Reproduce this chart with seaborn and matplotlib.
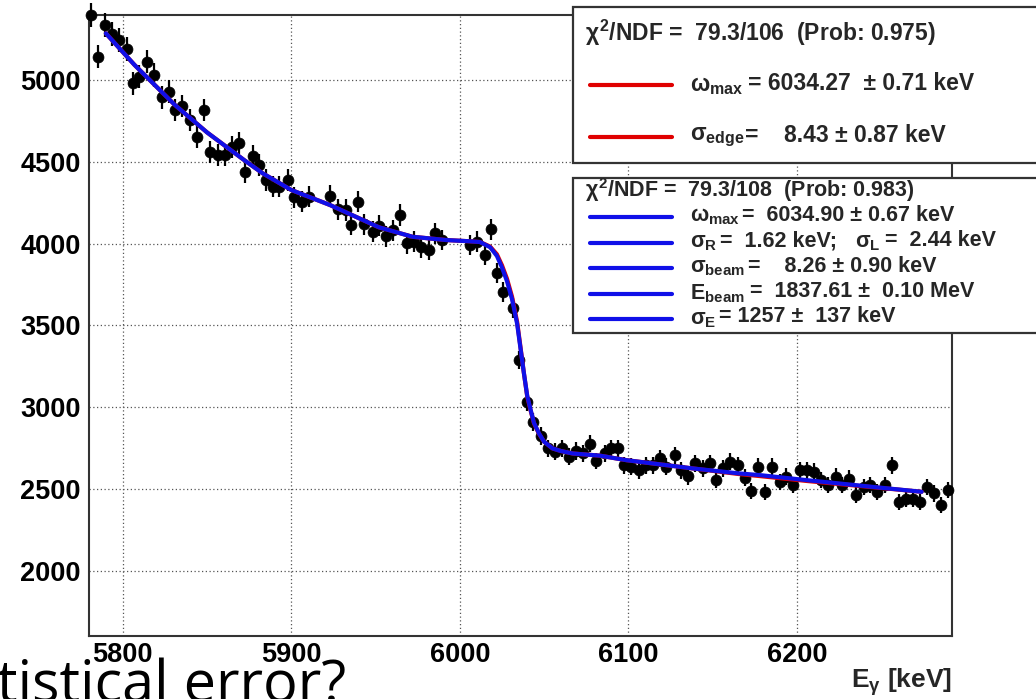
import numpy as np
import pandas as pd
import matplotlib
matplotlib.use("Agg")
import matplotlib.pyplot as plt
import seaborn as sns
from matplotlib.patches import Rectangle
from matplotlib.lines import Line2D
from matplotlib.ticker import MultipleLocator

# ---------------- data ----------------
energy = [5781.2, 5785.2, 5789.6, 5793.5, 5798.0, 5802.4, 5805.9, 5809.9, 5814.2, 5818.8,
          5823.1, 5827.3, 5831.1, 5835.4, 5839.8, 5844.2, 5848.1, 5852.0, 5856.4, 5860.8,
          5864.9, 5868.8, 5872.4, 5877.2, 5881.1, 5885.1, 5889.0, 5893.0, 5897.9, 5901.9,
          5906.5, 5910.8, 5922.7, 5927.6, 5932.2, 5935.5, 5939.5, 5943.4, 5948.4, 5952.3,
          5956.3, 5960.2, 5964.6, 5968.5, 5973.1, 5977.1, 5981.6, 5985.0, 5989.6, 6005.8,
          6010.1, 6014.7, 6018.6, 6021.8, 6025.9, 6031.3, 6035.4, 6039.6, 6043.3, 6047.9,
          6052.2, 6056.2, 6060.8, 6064.8, 6069.1, 6073.0, 6077.0, 6080.9, 6085.9, 6089.8,
          6093.8, 6097.7, 6101.7, 6106.6, 6110.6, 6114.5, 6118.5, 6122.5, 6127.4, 6131.4,
          6135.3, 6139.3, 6144.2, 6148.2, 6152.2, 6156.1, 6160.1, 6165.0, 6169.0, 6172.9,
          6177.1, 6181.2, 6185.2, 6189.7, 6193.7, 6197.6, 6202.0, 6205.9, 6209.9, 6214.4,
          6218.4, 6222.9, 6226.9, 6230.8, 6235.2, 6239.6, 6243.5, 6247.5, 6252.0, 6256.6,
          6260.5, 6264.9, 6268.9, 6272.8, 6277.2, 6281.1, 6285.3, 6289.6]
counts = [5395, 5142, 5336, 5281, 5245, 5188, 4980, 5020, 5112, 5030,
          4894, 4929, 4817, 4841, 4755, 4650, 4817, 4562, 4542, 4542,
          4592, 4617, 4440, 4535, 4480, 4389, 4348, 4348, 4389, 4283,
          4256, 4287, 4291, 4210, 4205, 4114, 4256, 4120, 4073, 4108,
          4044, 4083, 4175, 4002, 4012, 3977, 3961, 4063, 4022, 3991,
          4012, 3930, 4087, 3823, 3706, 3607, 3289, 3034, 2911, 2825,
          2749, 2728, 2749, 2698, 2733, 2718, 2779, 2672, 2718, 2749,
          2749, 2647, 2637, 2616, 2647, 2647, 2688, 2637, 2708, 2616,
          2579, 2657, 2627, 2657, 2555, 2627, 2667, 2647, 2570, 2489,
          2637, 2484, 2637, 2545, 2576, 2524, 2616, 2616, 2606, 2555,
          2524, 2576, 2524, 2565, 2463, 2514, 2524, 2484, 2524, 2647,
          2423, 2443, 2443, 2423, 2514, 2474, 2402, 2494]

# fit curves (knots)
fit_E = [5790, 5807, 5831, 5850, 5872, 5883, 5900, 5923, 5952, 5972,
         5992, 6005, 6012, 6018, 6022, 6025, 6028, 6031, 6034, 6036,
         6038, 6040, 6042, 6044, 6047, 6050, 6055, 6060, 6067, 6083,
         6099, 6138, 6166, 6178, 6206, 6245, 6274]
fit_blue = [5285, 5092, 4847, 4680, 4511, 4430, 4328, 4236, 4100, 4042,
            4022, 4015, 4010, 3978, 3925, 3855, 3770, 3660, 3510, 3360,
            3210, 3070, 2985, 2905, 2840, 2790, 2749, 2733, 2718, 2705,
            2677, 2627, 2596, 2586, 2555, 2514, 2484]
fit_red = [5285, 5092, 4847, 4680, 4511, 4430, 4328, 4236, 4100, 4042,
           4022, 4015, 4010, 3982, 3935, 3868, 3785, 3675, 3522, 3368,
           3210, 3065, 2980, 2902, 2838, 2790, 2749, 2733, 2718, 2705,
           2677, 2627, 2592, 2580, 2550, 2512, 2484]

x_ticks = [5800, 5900, 6000, 6100, 6200]
y_ticks = [2000, 2500, 3000, 3500, 4000, 4500, 5000]

box1_title = "79.3/106  (Prob: 0.975)"
box1_rows = [(r"$\omega_{\mathrm{max}}$", "= 6034.27  \u00b1 0.71 keV"),
             (r"$\sigma_{\mathrm{edge}}$", "=    8.43 \u00b1 0.87 keV")]
box2_title = "79.3/108  (Prob: 0.983)"
box2_rows = [(r"$\omega_{\mathrm{max}}$", "=  6034.90 \u00b1 0.67 keV"),
             (r"$\sigma_{\mathrm{R}}$", "=  1.62 keV;   "),
             (r"$\sigma_{\mathrm{beam}}$", "=    8.26 \u00b1 0.90 keV"),
             (r"$\mathrm{E}_{\mathrm{beam}}$", "=  1837.61 \u00b1  0.10 MeV"),
             (r"$\sigma_{\mathrm{E}}$", "= 1257 \u00b1  137 keV")]

# ---------------- style ----------------
sns.set_theme(style="white")
plt.rcParams["font.family"] = ["Liberation Sans", "DejaVu Sans"]
plt.rcParams["mathtext.fontset"] = "custom"
plt.rcParams["mathtext.rm"] = "Liberation Sans:bold"
plt.rcParams["mathtext.it"] = "Liberation Sans:bold"
plt.rcParams["mathtext.bf"] = "Liberation Sans:bold"

W, H = 1036, 699
fig = plt.figure(figsize=(W / 100, H / 100), dpi=100)
fig.patch.set_facecolor("white")


def fx(px):
    return px / W


def fy(py):
    return 1 - py / H


ax = fig.add_axes([fx(89), fy(636), fx(952) - fx(89), fy(15) - fy(636)])
ax.set_facecolor("white")

df = pd.DataFrame({"E": energy, "N": counts})
err = np.sqrt(df["N"].to_numpy())

ax.vlines(df["E"], df["N"] - err, df["N"] + err, color="black", lw=1.6, zorder=3, clip_on=False)
sns.scatterplot(data=df, x="E", y="N", ax=ax, color="black", s=62, edgecolor="black",
                linewidth=0.5, zorder=4, clip_on=False, legend=False)

sns.lineplot(x=fit_E, y=fit_red, ax=ax, color="#e00000", lw=3.0, zorder=5,
             sort=False, estimator=None)
sns.lineplot(x=fit_E, y=fit_blue, ax=ax, color="#1010e8", lw=3.0, zorder=6,
             sort=False, estimator=None)

ax.set_xlim(5780, 6292)
ax.set_ylim(1603, 5397)
ax.set_xticks(x_ticks)
ax.set_yticks(y_ticks)
ax.xaxis.set_minor_locator(MultipleLocator(20))
ax.yaxis.set_minor_locator(MultipleLocator(100))
ax.set_xlabel("")
ax.set_ylabel("")

ax.grid(True, which="major", color="#555555", lw=0.9, ls=(0, (1, 2)))
ax.tick_params(axis="both", which="both", direction="in", colors="#333333",
               labelcolor="black", width=1.3)
ax.tick_params(axis="y", which="major", length=18, labelsize=19.5, pad=6)
ax.tick_params(axis="y", which="minor", length=9.5)
ax.tick_params(axis="x", which="major", length=14, labelsize=19.5, pad=4)
ax.tick_params(axis="x", which="minor", length=7)
for lab in ax.get_xticklabels() + ax.get_yticklabels():
    lab.set_fontweight("bold")
for s in ax.spines.values():
    s.set_color("#333333")
    s.set_linewidth(1.5)

fig.text(fx(952), fy(682), r"E$_{\gamma}$ [keV]", ha="right", va="center",
         fontsize=19, fontweight="bold")

# ---------------- legend boxes ----------------
for (top, bot) in [(7, 163), (178, 333)]:
    fig.add_artist(Rectangle((fx(573), fy(bot)), fx(W + 20) - fx(573), fy(top) - fy(bot),
                             transform=fig.transFigure, facecolor="white",
                             edgecolor="#333333", lw=1.6, zorder=10, clip_on=False))

fig.text(fx(585), fy(33), r"$\chi^{2}$/NDF =  " + box1_title, ha="left", va="center",
         fontsize=16.5, fontweight="bold", zorder=11)
row_y1 = [85, 137]
eq_x1 = [748, 745]
for (sym, val), y, ex in zip(box1_rows, row_y1, eq_x1):
    fig.add_artist(Line2D([fx(590), fx(672)], [fy(y), fy(y)], color="#e00000", lw=3,
                          transform=fig.transFigure, zorder=11))
    fig.text(fx(690), fy(y), sym, ha="left", va="center", fontsize=16.5,
             fontweight="bold", zorder=11)
    fig.text(fx(ex), fy(y - 2), val, ha="left", va="center", fontsize=16.5,
             fontweight="bold", zorder=11)

fig.text(fx(585), fy(190), r"$\chi^{2}$/NDF =  " + box2_title, ha="left", va="center",
         fontsize=15.5, fontweight="bold", zorder=11)
row_y2 = [217, 243, 268, 294, 319]
eq_x2 = [742, 720, 748, 750, 719]
for (sym, val), y, ex in zip(box2_rows, row_y2, eq_x2):
    fig.add_artist(Line2D([fx(590), fx(672)], [fy(y), fy(y)], color="#1010e8", lw=3,
                          transform=fig.transFigure, zorder=11))
    fig.text(fx(690), fy(y), sym, ha="left", va="center", fontsize=15.5,
             fontweight="bold", zorder=11)
    fig.text(fx(ex), fy(y - 2), val, ha="left", va="center", fontsize=15.5,
             fontweight="bold", zorder=11)
# sigma_L part of the second row
fig.text(fx(855), fy(243), r"$\sigma_{\mathrm{L}}$", ha="left", va="center", fontsize=15.5,
         fontweight="bold", zorder=11)
fig.text(fx(885), fy(241), "=  2.44 keV", ha="left", va="center", fontsize=15.5,
         fontweight="bold", zorder=11)

# slide text cut off at the bottom
fig.text(fx(-3), fy(702), "tistical error?", ha="left", va="baseline", fontsize=41.5,
         family=["Open Sans", "DejaVu Sans"], color="black", zorder=12)

fig.savefig("out.png", dpi=100, facecolor="white")
